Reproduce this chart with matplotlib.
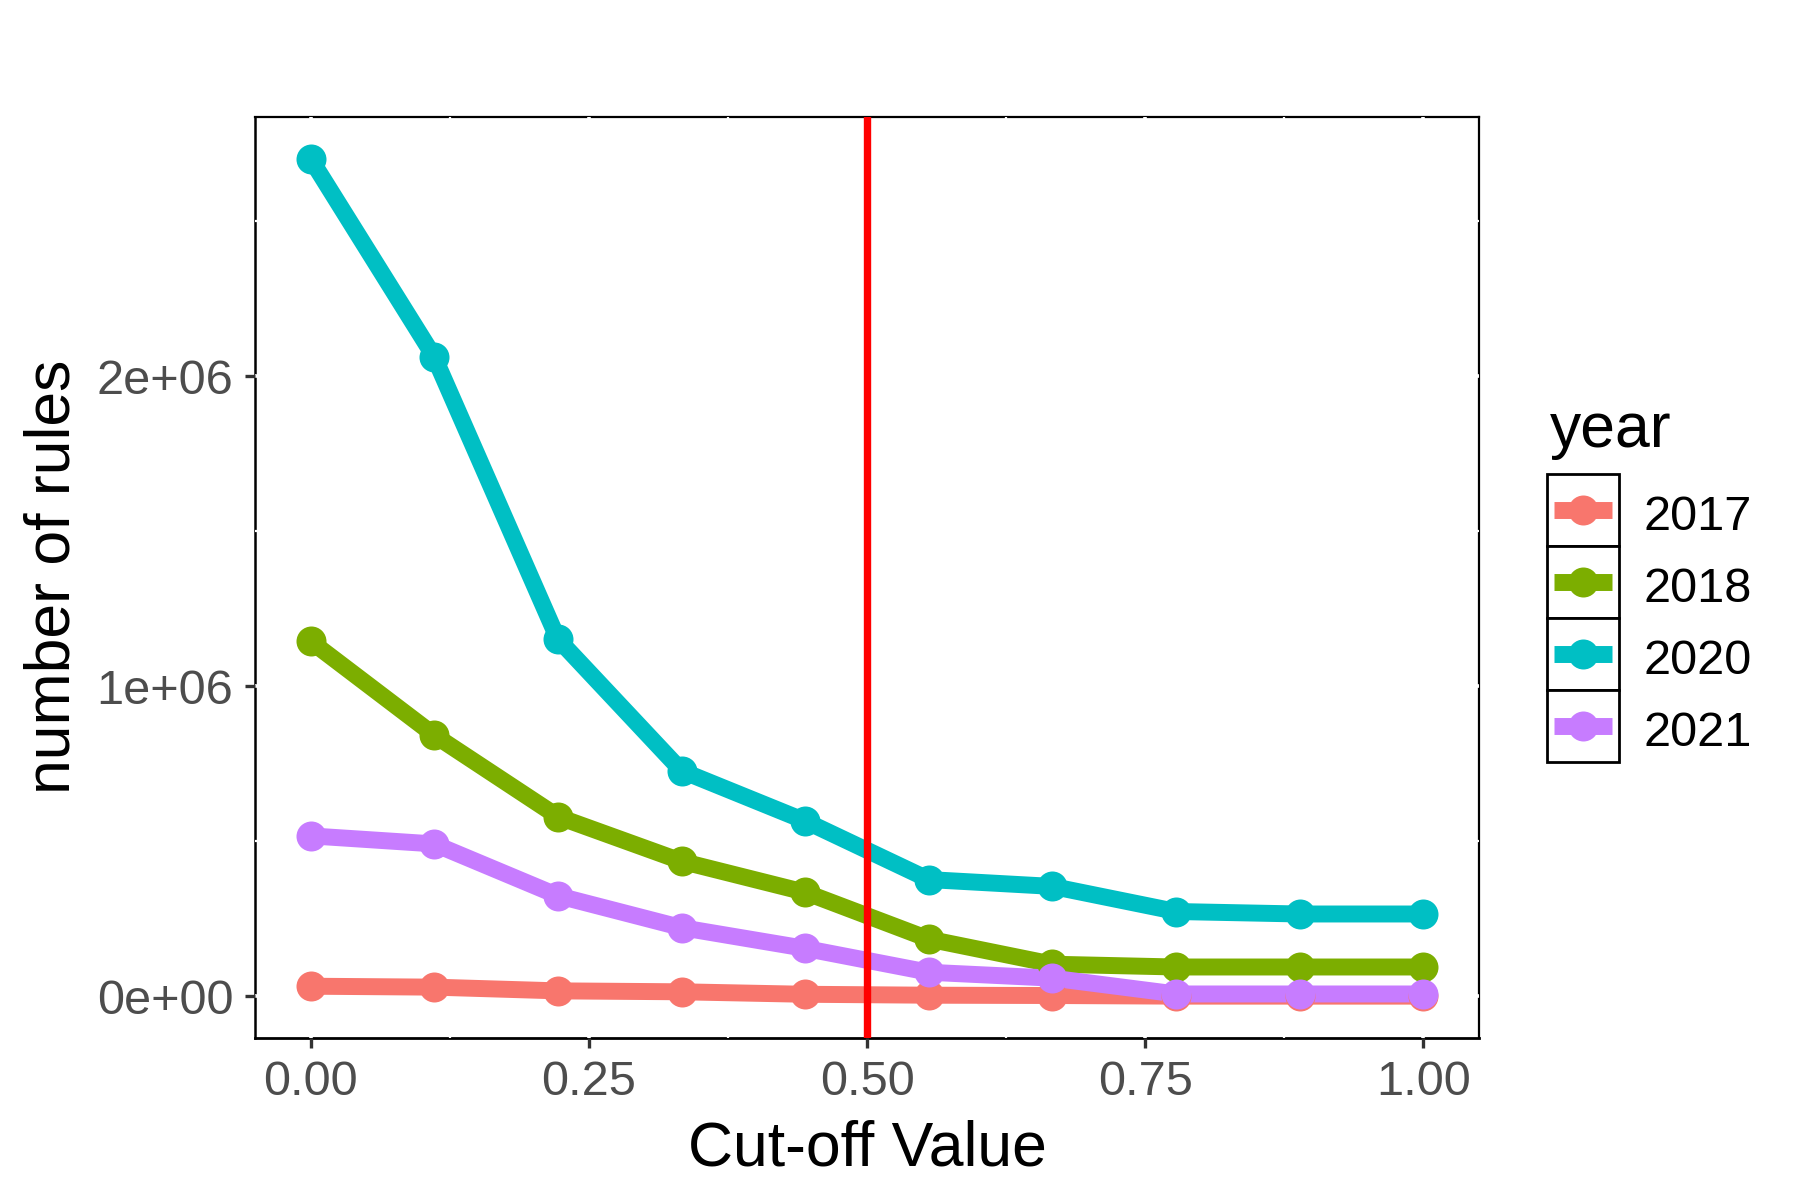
import matplotlib
matplotlib.use("Agg")
import matplotlib.pyplot as plt
from matplotlib.patches import Rectangle
from matplotlib.lines import Line2D

# cut-off values (10 steps from 0 to 1)
cutoffs = [0.0, 1/9, 2/9, 3/9, 4/9, 5/9, 6/9, 7/9, 8/9, 1.0]

years = ["2017", "2018", "2020", "2021"]
rules_2017 = [33000, 30000, 18000, 15000, 7000, 4000, 3000, 1000, 1000, 1000]
rules_2018 = [1146000, 843000, 580000, 436000, 336000, 185000, 104000, 95000, 95000, 95000]
rules_2020 = [2702000, 2063000, 1153000, 728000, 566000, 377000, 355000, 274000, 266000, 266000]
rules_2021 = [518000, 492000, 325000, 222000, 155000, 78000, 59000, 8000, 8000, 8000]
series = [rules_2017, rules_2018, rules_2020, rules_2021]

colors = ["#F8766D", "#7CAE00", "#00BFC4", "#C77CFF"]

cutoff_line = 0.5

x_ticks = [0.0, 0.25, 0.5, 0.75, 1.0]
x_minor = [0.125, 0.375, 0.625, 0.875]
x_labels = ["0.00", "0.25", "0.50", "0.75", "1.00"]
y_ticks = [0, 1000000, 2000000]
y_minor = [500000, 1500000, 2500000]
y_labels = ["0e+00", "1e+06", "2e+06"]

plt.rcParams['font.family'] = ['Liberation Sans', 'DejaVu Sans']

W, H = 1800, 1200
LW = 12.2   # line width (pt)
MS = 21.6   # point size (pt)

fig = plt.figure(figsize=(18, 12), dpi=100)
ax = fig.add_axes([255 / W, 1 - 1038 / H, (1479 - 255) / W, (1038 - 117) / H])

# lines first, then points, then the cut-off line (ggplot layer order)
for vals, col in zip(series, colors):
    ax.plot(cutoffs, vals, color=col, linewidth=LW, solid_capstyle='butt', zorder=3)
for vals, col in zip(series, colors):
    ax.plot(cutoffs, vals, linestyle='none', marker='o', markersize=MS,
            color=col, markeredgewidth=0, zorder=4)
ax.axvline(cutoff_line, color='#FF0000', linewidth=5.3, zorder=5)

xmin, xmax = min(cutoffs), max(cutoffs)
ymax = max(max(s) for s in series)
ymin = min(min(s) for s in series)
ax.set_xlim(xmin - 0.05 * (xmax - xmin), xmax + 0.05 * (xmax - xmin))
ax.set_ylim(ymin - 0.05 * (ymax - ymin), ymax + 0.05 * (ymax - ymin))

ax.set_xticks(x_ticks)
ax.set_xticklabels(x_labels)
ax.set_xticks(x_minor, minor=True)
ax.set_yticks(y_ticks)
ax.set_yticklabels(y_labels)
ax.set_yticks(y_minor, minor=True)
ax.tick_params(axis='both', which='major', length=7.2, width=2.4, color='#333333',
               labelsize=35, labelcolor='#4D4D4D', pad=8.5)
ax.tick_params(axis='both', which='minor', length=0)

# white grid on white panel: only shows where it nicks the border
ax.xaxis.set_zorder(2.7)
ax.yaxis.set_zorder(2.7)
ax.grid(True, which='major', color='white', linewidth=2.6)
ax.grid(True, which='minor', color='white', linewidth=1.6)

for sp in ax.spines.values():
    sp.set_color('black')
    sp.set_linewidth(1.6)
ax.spines['bottom'].set_linewidth(2.0)
ax.spines['left'].set_linewidth(1.8)

# axis titles
fig.text((255 + 1479) / 2 / W, 1 - 1165 / H, "Cut-off Value", fontsize=45,
         ha='center', va='baseline', color='black')
fig.text(70 / W, 1 - 577 / H, "number of rules", fontsize=45, rotation=90,
         rotation_mode='anchor', ha='center', va='baseline', color='black')

# legend drawn by hand to get the boxed ggplot keys
fig.text(1550 / W, 1 - 447 / H, "year", fontsize=45, ha='left', va='baseline')
key_x, key_w = 1547, 72
key_tops = [474, 546, 618, 690]
for yr, col, top in zip(years, colors, key_tops):
    fig.add_artist(Rectangle((key_x / W, 1 - (top + key_w) / H), key_w / W, key_w / H,
                             transform=fig.transFigure, facecolor='white',
                             edgecolor='black', linewidth=2.0))
    yc = 1 - (top + key_w / 2) / H
    fig.add_artist(Line2D([(key_x + 7) / W, (key_x + key_w - 7) / W], [yc, yc],
                          transform=fig.transFigure, color=col, linewidth=LW,
                          solid_capstyle='butt'))
    fig.add_artist(Line2D([(key_x + key_w / 2) / W], [yc], transform=fig.transFigure,
                          color=col, marker='o', markersize=MS, markeredgewidth=0))
    fig.text(1643 / W, 1 - (top + 56) / H, yr, fontsize=35, ha='left',
             va='baseline', color='black')

fig.savefig("out.png", dpi=100, facecolor='white')
